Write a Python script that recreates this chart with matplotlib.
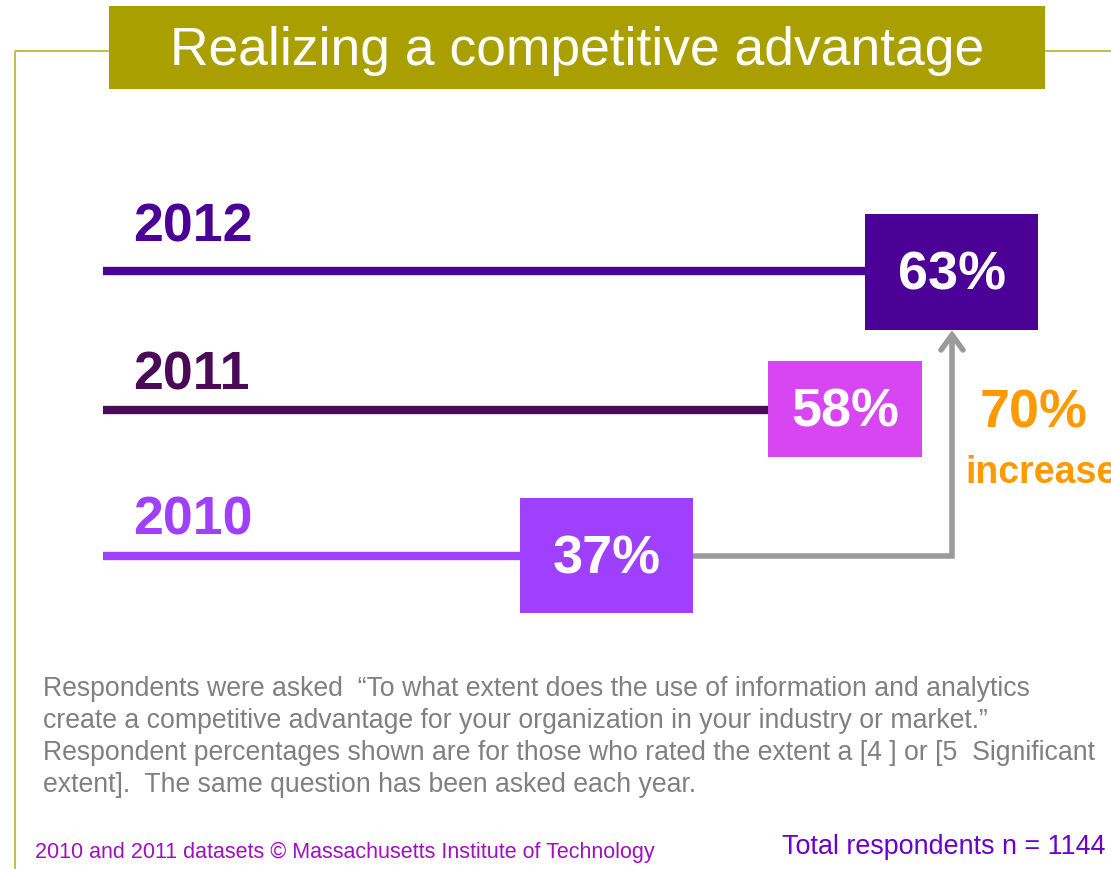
import matplotlib
matplotlib.use("Agg")
import matplotlib.pyplot as plt
from matplotlib.patches import Rectangle

plt.rcParams['font.family'] = ['Liberation Sans', 'DejaVu Sans']

# ---- data ----
years = ["2010", "2011", "2012"]
shares = [37, 58, 63]          # % rating extent 4 or 5
increase_pct = 70              # growth 2010 -> 2012
total_n = 1144

# ---- styling / layout (pixel space of a 1111 x 870 canvas) ----
year_colors = ["#A040FF", "#4A0A58", "#4B0096"]
line_colors = ["#A040FF", "#4A0A58", "#4B0096"]
box_colors = ["#A040FF", "#D846F2", "#4B0096"]
row_y = [557, 411, 272]
label_y = [521, 376, 227]
box_x0 = [520, 768, 865]
box_x1 = [693, 922, 1038]
box_top = [499, 362, 215]
box_bot = [614, 458, 331]
line_x0 = 103
olive = "#A9A000"
gray = "#9A9A9A"
orange = "#FF9900"

W, H = 1111, 870
fig = plt.figure(figsize=(W / 100, H / 100), dpi=100)
ax = fig.add_axes([0, 0, 1, 1])
ax.set_xlim(0, W)
ax.set_ylim(H, 0)
ax.axis("off")

# frame lines and title banner
ax.plot([15, 109], [52, 52], color="#C4BC55", lw=1.5, solid_capstyle="butt")
ax.plot([1045, W], [52, 52], color="#C4BC55", lw=1.5, solid_capstyle="butt")
ax.plot([15, 15], [52, H], color="#C4BC55", lw=1.5, solid_capstyle="butt")
ax.add_patch(Rectangle((109, 7), 936, 83, color=olive, lw=0))
ax.text(577, 51, "Realizing a competitive advantage", color="white",
        fontsize=38.4, ha="center", va="center")

# connector arrow from 2010 to 2012
ax.plot([box_x1[0], 952, 952], [row_y[0], row_y[0], 336], color=gray,
        lw=4, solid_joinstyle="miter", solid_capstyle="butt")
ax.plot([941, 952, 963], [351, 336, 351], color=gray, lw=4,
        solid_joinstyle="miter", solid_capstyle="round")

# yearly rows
for i in range(len(years)):
    ax.plot([line_x0, box_x0[i]], [row_y[i], row_y[i]], color=line_colors[i],
            lw=6, solid_capstyle="butt")
    ax.add_patch(Rectangle((box_x0[i], box_top[i]), box_x1[i] - box_x0[i],
                           box_bot[i] - box_top[i], color=box_colors[i], lw=0))
    ax.text((box_x0[i] + box_x1[i]) / 2, (box_top[i] + box_bot[i]) / 2 + 3,
            f"{shares[i]}%", color="white", fontsize=38.8, fontweight="bold",
            ha="center", va="center")
    ax.text(133, label_y[i], years[i], color=year_colors[i], fontsize=38.6,
            fontweight="bold", ha="left", va="center")

# increase annotation
ax.text(1034, 414, f"{increase_pct}%", color=orange, fontsize=38.8,
        fontweight="bold", ha="center", va="center")
ax.text(965, 473, "increase", color=orange, fontsize=27,
        fontweight="bold", ha="left", va="center")

# notes
note_lines = [
    "Respondents were asked  \u201cTo what extent does the use of information and analytics",
    "create a competitive advantage for your organization in your industry or market.\u201d",
    "Respondent percentages shown are for those who rated the extent a [4 ] or [5  Significant",
    "extent].  The same question has been asked each year.",
]
for k, line in enumerate(note_lines):
    ax.text(43, 689 + 32 * k, line, color="#808080", fontsize=19.2,
            ha="left", va="center")

ax.text(35, 852, "2010 and 2011 datasets \u00a9 Massachusetts Institute of Technology",
        color="#A010C0", fontsize=15.5, ha="left", va="center")
ax.text(1105, 847, f"Total respondents n = {total_n}", color="#6A00CC",
        fontsize=19.4, ha="right", va="center")

fig.savefig("out.png", dpi=100)
